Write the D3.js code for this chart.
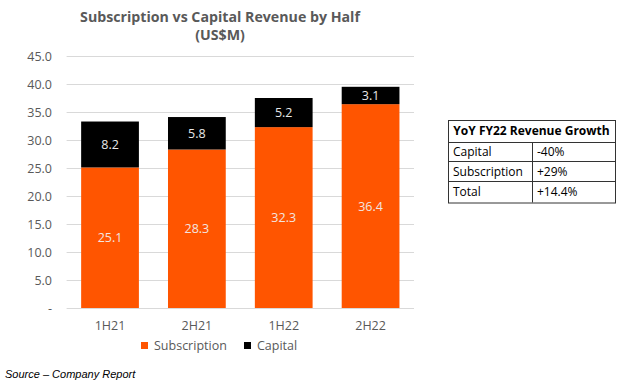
<!DOCTYPE html>
<html>
<head>
<meta charset="UTF-8">
<title>Subscription vs Capital Revenue by Half</title>
<script src="https://cdn.jsdelivr.net/npm/d3@7"></script>
<style>
  body { margin: 0; background: #fff; }
  text { font-family: "Open Sans", sans-serif; }
</style>
</head>
<body>
<div class="container"></div>
<script>
// chart data
var halves = ["1H21", "2H21", "1H22", "2H22"];
var subscription = [25.1, 28.3, 32.3, 36.4];
var capital = [8.2, 5.8, 5.2, 3.1];
var yTicks = [0, 5, 10, 15, 20, 25, 30, 35, 40, 45];

// growth table
var tableHeader = "YoY FY22 Revenue Growth";
var tableRows = ["Capital", "Subscription", "Total"];
var tableValues = ["-40%", "+29%", "+14.4%"];

var width = 635, height = 384;
var orange = "#FF5500", grey = "#595959";

var svg = d3.select(".container").append("svg")
    .attr("width", width)
    .attr("height", height);

var x = d3.scaleBand().domain(halves).range([66.6, 414]).paddingInner(0.335).paddingOuter(0.1675);
var y = d3.scaleLinear().domain([0, 45]).range([308, 56]);

// gridlines
svg.append("g").selectAll("line")
    .data(yTicks)
    .enter().append("line")
    .attr("x1", 66.6).attr("x2", 414)
    .attr("y1", function(d) { return Math.round(y(d)) + 0.5; })
    .attr("y2", function(d) { return Math.round(y(d)) + 0.5; })
    .style("stroke", "#d9d9d9")
    .style("stroke-width", 1);

// y tick labels
svg.append("g").selectAll("text")
    .data(yTicks)
    .enter().append("text")
    .attr("x", 52)
    .attr("y", function(d) { return y(d) + 4.5; })
    .attr("text-anchor", "end")
    .style("font-size", "12.5px")
    .style("fill", grey)
    .text(function(d) { return d === 0 ? "-" : d.toFixed(1); });

// stacked bars
var stacks = halves.map(function(h, i) {
    return {half: h, sub: subscription[i], cap: capital[i]};
});

var g = svg.append("g").selectAll("g")
    .data(stacks)
    .enter().append("g");

g.append("rect")
    .attr("x", function(d) { return x(d.half); })
    .attr("width", x.bandwidth())
    .attr("y", function(d) { return y(d.sub); })
    .attr("height", function(d) { return y(0) - y(d.sub); })
    .style("fill", orange);

g.append("rect")
    .attr("x", function(d) { return x(d.half); })
    .attr("width", x.bandwidth())
    .attr("y", function(d) { return y(d.sub + d.cap); })
    .attr("height", function(d) { return y(d.sub) - y(d.sub + d.cap); })
    .style("fill", "#000");

g.append("text")
    .attr("x", function(d) { return x(d.half) + x.bandwidth() / 2; })
    .attr("y", function(d) { return y(d.sub / 2) + 4.5; })
    .attr("text-anchor", "middle")
    .style("font-size", "12.5px")
    .style("fill", "#f2e6e0")
    .text(function(d) { return d.sub.toFixed(1); });

g.append("text")
    .attr("x", function(d) { return x(d.half) + x.bandwidth() / 2; })
    .attr("y", function(d) { return y(d.sub + d.cap / 2) + 4.5; })
    .attr("text-anchor", "middle")
    .style("font-size", "12.5px")
    .style("fill", "#e8e8e8")
    .text(function(d) { return d.cap.toFixed(1); });

// x labels
svg.append("g").selectAll("text")
    .data(halves)
    .enter().append("text")
    .attr("x", function(d) { return x(d) + x.bandwidth() / 2; })
    .attr("y", 330)
    .attr("text-anchor", "middle")
    .style("font-size", "12.5px")
    .style("fill", grey)
    .text(function(d) { return d; });

// title (two lines)
svg.append("text")
    .attr("x", 220).attr("y", 22)
    .attr("text-anchor", "middle")
    .style("font-size", "14.2px").style("font-weight", "bold")
    .style("fill", grey)
    .text("Subscription vs Capital Revenue by Half");
svg.append("text")
    .attr("x", 220).attr("y", 40)
    .attr("text-anchor", "middle")
    .style("font-size", "14.2px").style("font-weight", "bold")
    .style("fill", grey)
    .text("(US$M)");

// legend
var legend = [{name: "Subscription", color: orange, x: 141}, {name: "Capital", color: "#000", x: 244}];
var lg = svg.append("g").selectAll("g")
    .data(legend)
    .enter().append("g");
lg.append("rect")
    .attr("x", function(d) { return d.x; })
    .attr("y", 342)
    .attr("width", 7).attr("height", 7)
    .style("fill", function(d) { return d.color; });
lg.append("text")
    .attr("x", function(d) { return d.x + 13; })
    .attr("y", 350)
    .style("font-size", "12.5px")
    .style("fill", grey)
    .text(function(d) { return d.name; });

// source note
svg.append("text")
    .attr("x", 5).attr("y", 378)
    .style("font-family", "'Liberation Sans', sans-serif")
    .style("font-size", "11px")
    .style("font-style", "italic")
    .style("fill", "#000")
    .text("Source \u2013 Company Report");

// growth table
var tx0 = 448, tx1 = 532, tx2 = 615;
var rowY = [120, 141.5, 161, 181, 202.5];
var tbl = svg.append("g").style("font-family", "'Liberation Sans', sans-serif");

tbl.append("rect")
    .attr("x", tx0 + 0.5).attr("y", rowY[0] + 0.5)
    .attr("width", tx2 - tx0).attr("height", rowY[4] - rowY[0])
    .style("fill", "#fff").style("stroke", "#333").style("stroke-width", 1);

tbl.selectAll("line.row")
    .data(rowY.slice(1, 4))
    .enter().append("line")
    .attr("x1", tx0).attr("x2", tx2 + 0.5)
    .attr("y1", function(d) { return Math.round(d) + 0.5; })
    .attr("y2", function(d) { return Math.round(d) + 0.5; })
    .style("stroke", "#333");

tbl.append("line")
    .attr("x1", tx1 + 0.5).attr("x2", tx1 + 0.5)
    .attr("y1", Math.round(rowY[1])).attr("y2", rowY[4])
    .style("stroke", "#333");

tbl.append("text")
    .attr("x", (tx0 + tx2) / 2).attr("y", rowY[0] + 15)
    .attr("text-anchor", "middle")
    .style("font-size", "12px").style("font-weight", "bold")
    .style("fill", "#000")
    .text(tableHeader);

tbl.selectAll("text.name")
    .data(tableRows)
    .enter().append("text")
    .attr("x", tx0 + 5)
    .attr("y", function(d, i) { return rowY[i + 1] + 14.5; })
    .style("font-size", "12px")
    .style("fill", "#000")
    .text(function(d) { return d; });

tbl.selectAll("text.val")
    .data(tableValues)
    .enter().append("text")
    .attr("x", tx1 + 5)
    .attr("y", function(d, i) { return rowY[i + 1] + 14.5; })
    .style("font-size", "12px")
    .style("fill", "#000")
    .text(function(d) { return d; });
</script>
</body>
</html>
